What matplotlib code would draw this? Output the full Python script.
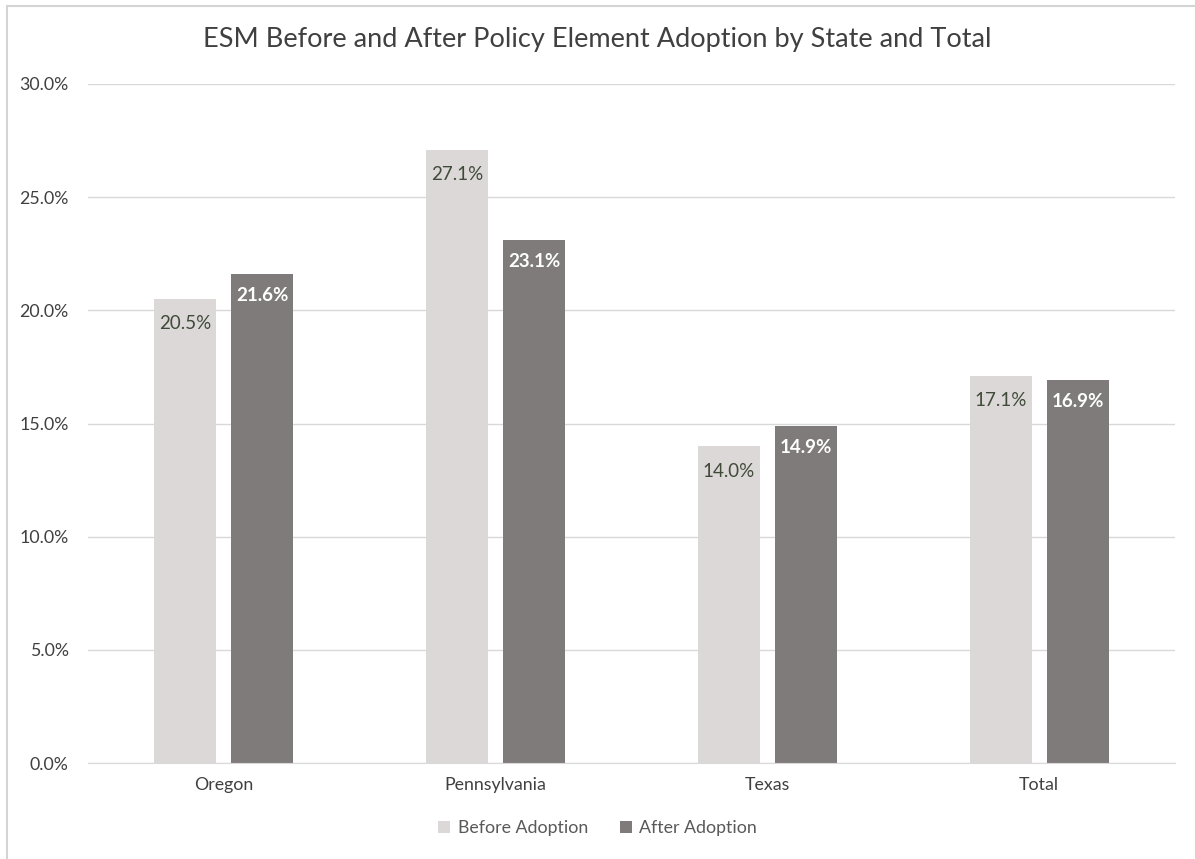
"""ESM before/after policy element adoption bar chart"""

import numpy as np
import matplotlib
matplotlib.use('Agg')
from matplotlib import pyplot as plt
from matplotlib.patches import Rectangle
from matplotlib.ticker import FuncFormatter

# Data
states = ['Oregon', 'Pennsylvania', 'Texas', 'Total']
before = [20.5, 27.1, 14.0, 17.1]
after = [21.6, 23.1, 14.9, 16.9]
series_names = ['Before Adoption', 'After Adoption']

plt.rcParams['font.family'] = ['Lato', 'DejaVu Sans']

fig = plt.figure(figsize=(11.95, 8.59), dpi=100)
# chart frame
fig.patches.append(Rectangle((7 / 1195, -0.01), 1.0, 1 - 6 / 859 + 0.01,
                             transform=fig.transFigure, fill=False,
                             edgecolor='#d4d4d4', linewidth=1.5))
ax = fig.add_axes([88 / 1195, 96 / 859, 1087 / 1195, 679 / 859])

x = np.arange(len(states))
width = 0.228
off = 0.142
c_before = '#dcd8d8'
c_after = '#807b7b'
ax.bar(x - off, before, width, color=c_before, label=series_names[0], zorder=2)
ax.bar(x + off, after, width, color=c_after, label=series_names[1], zorder=2)

# Labels
for xi, v in zip(x, before):
    ax.text(xi - off, v - 1.1, f'{v:.1f}%', ha='center', va='center',
            fontsize=13.5, color='#3f4a38')
for xi, v in zip(x, after):
    ax.text(xi + off, v - 0.95, f'{v:.1f}%', ha='center', va='center',
            fontsize=13.5, color='white', fontweight='bold')

ax.set_xlim(-0.5, 3.5)
ax.set_ylim(0, 30)
ax.set_yticks(np.arange(0, 30.1, 5))
ax.yaxis.set_major_formatter(FuncFormatter(lambda v, p: f'{v:.1f}%'))
ax.set_xticks(x)
ax.set_xticklabels(states)
ax.tick_params(axis='both', length=0, labelsize=12.8, labelcolor='#404040')
ax.tick_params(axis='y', pad=14)
ax.tick_params(axis='x', pad=10)
ax.grid(axis='y', color='#d9d9d9', linewidth=1, zorder=0)
for s in ['top', 'right', 'left']:
    ax.spines[s].set_visible(False)
ax.spines['bottom'].set_color('#d9d9d9')

fig.text(0.5, 1 - 40 / 859, 'ESM Before and After Policy Element Adoption by State and Total',
         ha='center', va='center', fontsize=19.5, color='#404040')

fig.legend(loc='center', bbox_to_anchor=(0.5, 1 - 828 / 859), ncol=2, frameon=False,
           fontsize=12.8, labelcolor='#595959', handlelength=0.7, handleheight=0.7,
           handletextpad=0.4, columnspacing=1.8)

fig.savefig('out.png', dpi=100)
